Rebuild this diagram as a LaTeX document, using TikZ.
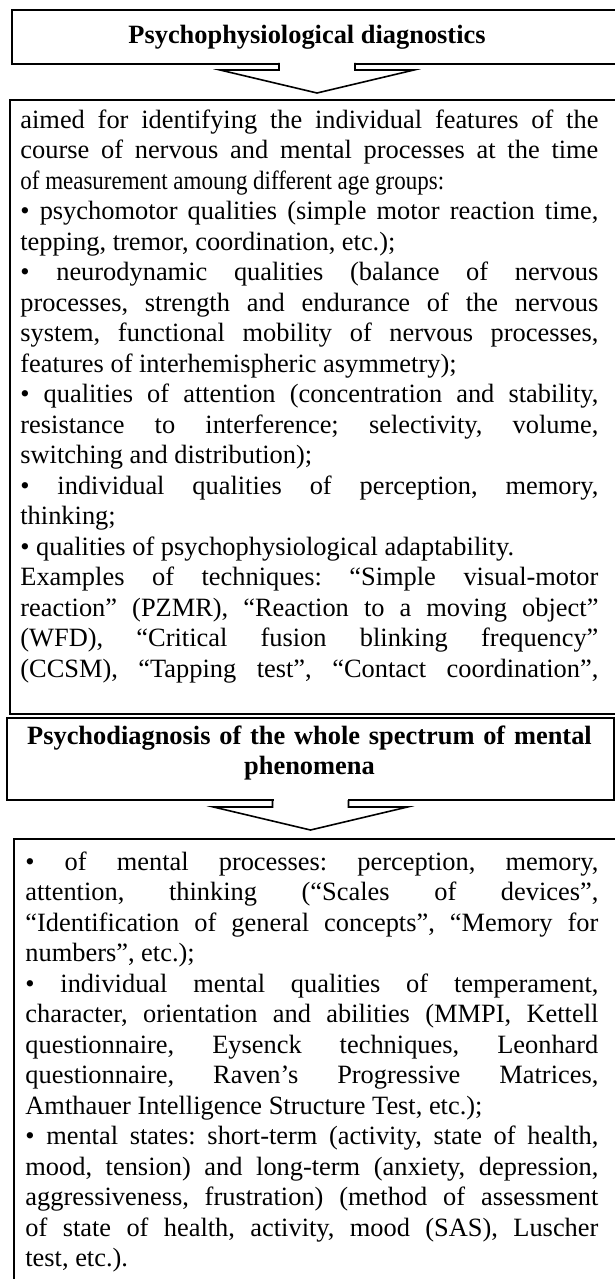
\documentclass[tikz,border=0pt]{standalone}
\usepackage{fontspec}
\usepackage{graphicx}
\setmainfont{Liberation Serif}
\usetikzlibrary{calc}
\newcommand\mybodyfont{\fontsize{13.2}{15.25}\selectfont}
\newcommand\myheadfont{\fontsize{13.2}{15.25}\selectfont\bfseries}
\newcommand\mypar{\setlength\parindent{0pt}\setlength\parskip{0pt}\frenchspacing\leftskip=0pt\rightskip=0pt\tolerance=10000\hbadness=10000\hyphenpenalty=10000\exhyphenpenalty=10000\relax}
\begin{document}
\begin{tikzpicture}[x=0.5pt,y=-0.5pt,
  frame/.style={draw, line width=1pt, inner sep=0, anchor=north west},
  blockarrow/.style={draw, line width=0.8pt, line join=miter},
  bodytext/.style={inner sep=0, anchor=base west, font=\mybodyfont, align=justify},
  headtext/.style={inner sep=0, font=\myheadfont, align=center}]
\useasboundingbox (0,0) rectangle (615,1279);
\clip (0,0) rectangle (615,1279);
\fill[white] (0,0) rectangle (615,1279);
% boxes
\node[frame, minimum width=309.5pt, minimum height=27pt] (h1) at (11,9) {};
\node[frame, minimum width=310.5pt, minimum height=307pt] (b1) at (9,99) {};
\node[frame, minimum width=303.5pt, minimum height=41pt] (h2) at (6,717) {};
\node[frame, minimum width=308.5pt, minimum height=231pt] (b3) at (13,838) {};
% header texts
\node[headtext, anchor=base] (t1) at (307,44) {Psychophysiological diagnostics};
\node[headtext, text width=300pt, anchor=base] (t2) at (309.5,744) {Psychodiagnosis of the whole spectrum of mental\\phenomena};
% arrows
\coordinate (a1) at (317,63);
\coordinate (a2) at (310.5,800);
\foreach \a in {a1,a2}{
  \fill[white] ($(\a)+(-37,-3)$) rectangle ($(\a)+(37,5)$);
  \draw[blockarrow] ($(\a)+(-38,0)$) -- ++(0,7) -- ($(\a)+(-97,7)$) -- ($(\a)+(0,30)$) -- ($(\a)+(97,7)$) -- ($(\a)+(38,7)$) -- ++(0,-7);
}
% body texts
\node[bodytext, text width=289pt] (x1) at (20,128) {\mypar
aimed for identifying the individual features of the\linebreak course of nervous and mental processes at the time\linebreak \scalebox{0.87}[1]{of measurement amoung different age groups:}\par
• psychomotor qualities (simple motor reaction time,\linebreak tepping, tremor, coordination, etc.);\par
• neurodynamic qualities (balance of nervous\linebreak processes, strength and endurance of the nervous\linebreak system, functional mobility of nervous processes,\linebreak features of interhemispheric asymmetry);\par
• qualities of attention (concentration and stability,\linebreak resistance to interference; selectivity, volume,\linebreak switching and distribution);\par
• individual qualities of perception, memory,\linebreak thinking;\par
• qualities of psychophysiological adaptability.\par
Examples of techniques: “Simple visual-motor\linebreak reaction” (PZMR), “Reaction to a moving object”\linebreak (WFD), “Critical fusion blinking frequency”\linebreak (CCSM), “Tapping test”, “Contact coordination”,{\parfillskip=0pt\par}};
\node[bodytext, text width=286.5pt] (x3) at (25,870) {\mypar
• of mental processes: perception, memory,\linebreak attention, thinking (“Scales of devices”,\linebreak “Identification of general concepts”, “Memory for\linebreak numbers”, etc.);\par
• individual mental qualities of temperament,\linebreak character, orientation and abilities (MMPI, Kettell\linebreak questionnaire, Eysenck techniques, Leonhard\linebreak questionnaire, Raven’s Progressive Matrices,\linebreak Amthauer Intelligence Structure Test, etc.);\par
• mental states: short-term (activity, state of health,\linebreak mood, tension) and long-term (anxiety, depression,\linebreak aggressiveness, frustration) (method of assessment\linebreak of state of health, activity, mood (SAS), Luscher\linebreak test, etc.).\par};
\end{tikzpicture}
\end{document}
